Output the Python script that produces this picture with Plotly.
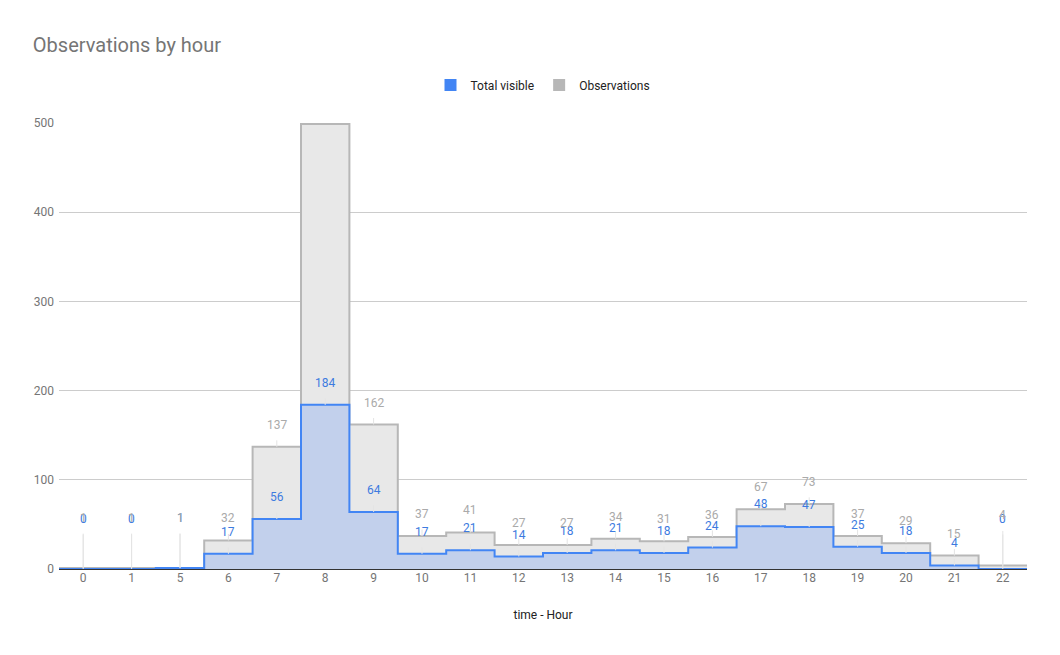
import numpy as np
import plotly.graph_objects as go

# data
hours = ['0', '1', '5', '6', '7', '8', '9', '10', '11', '12', '13', '14',
         '15', '16', '17', '18', '19', '20', '21', '22']
observations = [1, 1, 1, 32, 137, 499, 162, 37, 41, 27, 27, 34, 31, 36, 67, 73,
                37, 29, 15, 4]
total_visible = [0, 0, 1, 17, 56, 184, 64, 17, 21, 14, 18, 21, 18, 24, 48, 47,
                 25, 18, 4, 0]
# label for hour 8 observations is cut off at the top in the original
obs_labels = [str(v) for v in observations]
obs_labels[5] = ''
vis_labels = [str(v) for v in total_visible]

BLUE = '#4285f4'
GRAY = '#b7b7b7'
TXT = '#757575'


def steps(values):
    # turn category values into a stepped outline spanning each category band
    idx = np.arange(len(values))
    xs = np.column_stack([idx - 0.5, idx + 0.5]).ravel()
    ys = np.repeat(values, 2)
    return xs, ys


fig = go.Figure()

x_o, y_o = steps(observations)
fig.add_trace(go.Scatter(x=x_o, y=y_o, mode='lines', name='Observations',
                         line=dict(color=GRAY, width=2), fill='tozeroy',
                         fillcolor='#e8e8e8', hoverinfo='skip',
                         showlegend=False))
x_v, y_v = steps(total_visible)
fig.add_trace(go.Scatter(x=x_v, y=y_v, mode='lines', name='Total visible',
                         line=dict(color=BLUE, width=2), fill='tozeroy',
                         fillcolor='#c2d0ec', hoverinfo='skip',
                         showlegend=False))

# legend entries as square swatches
for name, col in [('Total visible', BLUE), ('Observations', GRAY)]:
    fig.add_trace(go.Scatter(x=[None], y=[None], mode='markers', name=name,
                             marker=dict(symbol='square', size=12, color=col)))

# value labels with thin stems, google charts style
for i, h in enumerate(hours):
    for val, lab, col in [(total_visible[i], vis_labels[i], '#3d7be0'),
                          (observations[i], obs_labels[i], '#aaaaaa')]:
        if lab == '':
            continue
        off = -50 if observations[i] < 5 else -22
        fig.add_annotation(x=i, y=val, text=lab, showarrow=True,
                           arrowhead=0, arrowwidth=1, arrowcolor='#e4e4e4',
                           ax=0, ay=off, standoff=0, startstandoff=7,
                           font=dict(family='Roboto', size=12, color=col))

fig.update_layout(
    width=1060, height=655,
    paper_bgcolor='white', plot_bgcolor='white',
    font=dict(family='Roboto', size=12, color=TXT),
    title=dict(text='Observations by hour', x=0.031, xanchor='left',
               y=0.931, yanchor='middle',
               font=dict(family='Roboto', size=20, color=TXT)),
    legend=dict(orientation='h', x=0.5, xanchor='center', y=1.085,
                yanchor='middle', font=dict(size=12, color='#222222'),
                itemwidth=30, traceorder='normal'),
    margin=dict(l=59, r=33, t=123, b=86),
    showlegend=True,
)
fig.update_xaxes(
    range=[-0.5, len(hours) - 0.5],
    tickmode='array', tickvals=list(range(len(hours))), ticktext=hours,
    showgrid=False, zeroline=False, showline=False, ticks='',
    tickfont=dict(size=12, color=TXT),
    title=dict(text='time - Hour', font=dict(size=12, color='#222222'),
               standoff=26),
)
fig.update_yaxes(
    range=[0, 500], tickvals=[0, 100, 200, 300, 400, 500],
    showgrid=True, gridcolor='#cccccc', gridwidth=1,
    zeroline=True, zerolinecolor='#333333', zerolinewidth=2,
    showline=False, ticks='', tickfont=dict(size=12, color=TXT),
    ticklabelstandoff=4,
)

fig.write_html("out.html", config={'displayModeBar': False},
               post_script="document.body.style.margin='0px';")
